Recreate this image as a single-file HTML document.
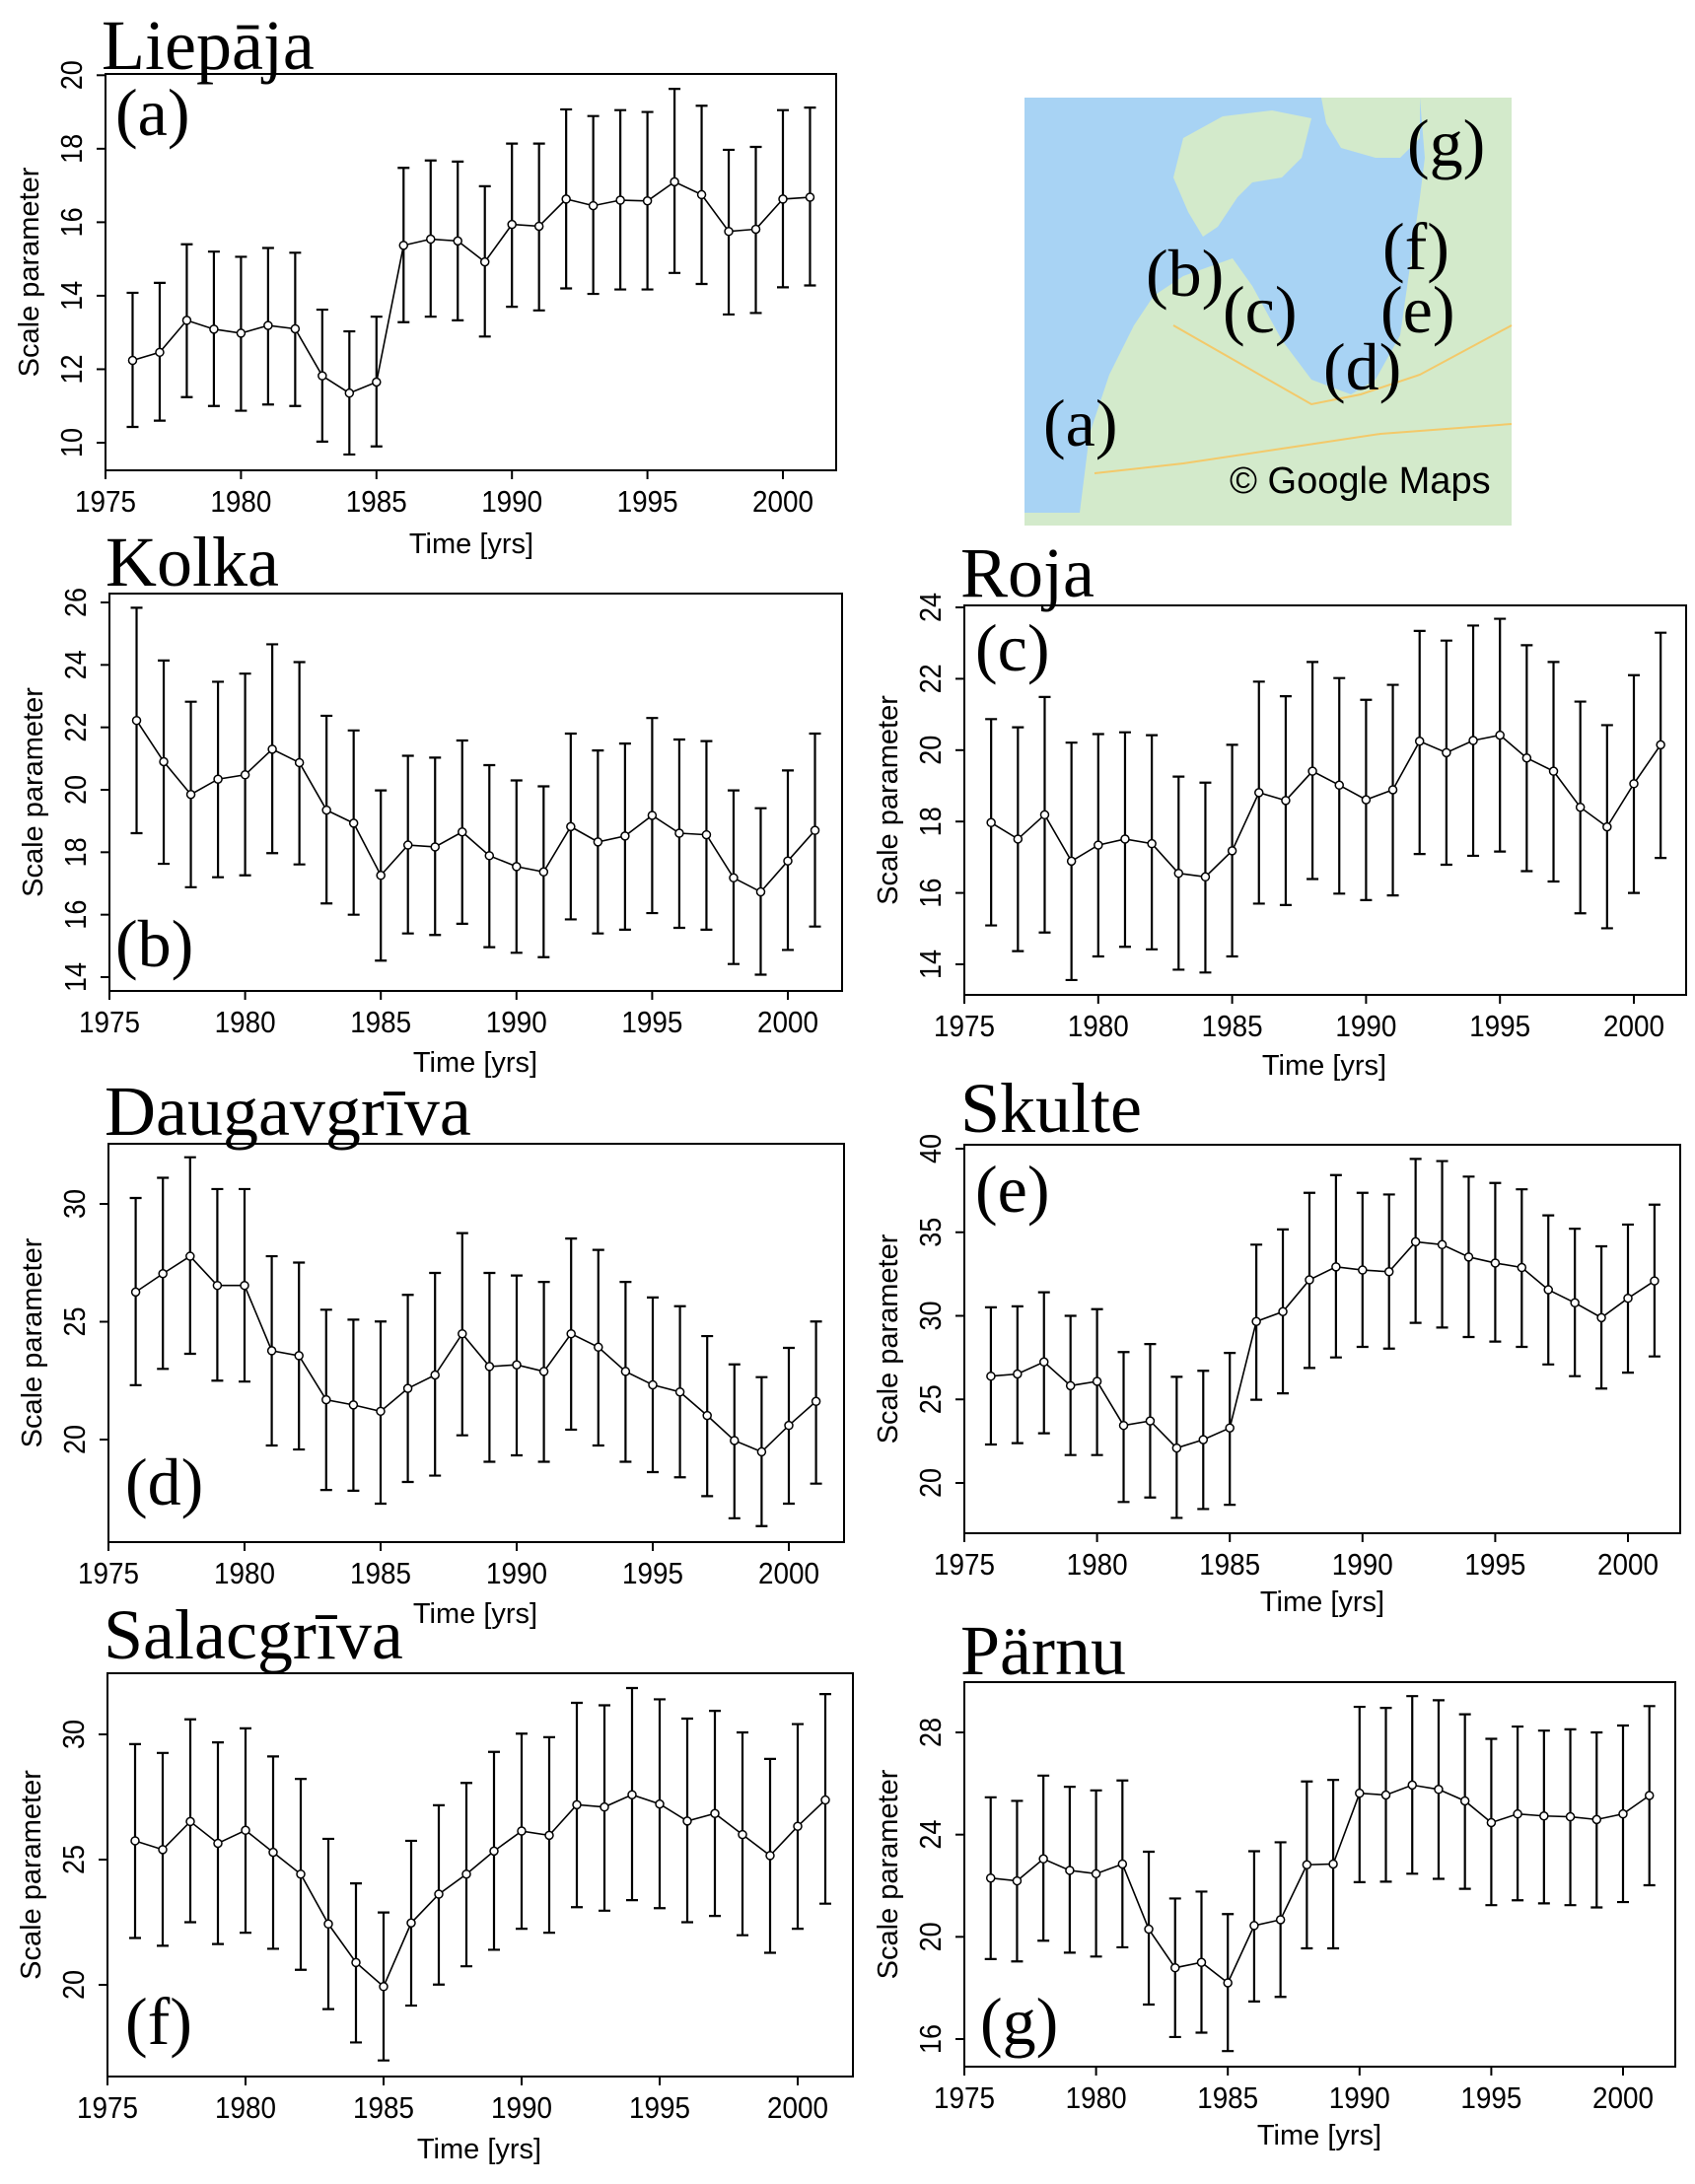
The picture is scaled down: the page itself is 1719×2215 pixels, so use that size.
<!DOCTYPE html>
<html><head><meta charset="utf-8"><style>
body{margin:0;background:#fff}
svg{display:block}
.tk{font-family:"Liberation Sans",sans-serif;font-size:31px;fill:#000}
.ax{font-family:"Liberation Sans",sans-serif;font-size:29px;fill:#000}
.ttl{font-family:"Liberation Serif",serif;font-size:72px;fill:#000}
.lab{font-family:"Liberation Serif",serif;font-size:68px;fill:#000}
</style></head><body>
<svg id="fig" width="1719" height="2215" viewBox="0 0 1719 2215" xmlns="http://www.w3.org/2000/svg">
<g id="map">
<rect x="1039" y="99" width="494" height="434" fill="#a8d3f4"/>
<path d="M1039,533 L1039,520 L1095,520 L1105,440 L1125,380 L1150,330 L1170,300 L1200,280 L1250,262 L1270,290 L1300,345 L1330,385 L1370,400 L1395,385 L1420,340 L1430,270 L1440,200 L1445,160 L1440,99 L1533,99 L1533,533 Z" fill="#d3eacb"/>
<path d="M1200,140 L1240,118 L1290,112 L1330,120 L1320,160 L1300,180 L1270,185 L1255,200 L1235,230 L1220,240 L1205,215 L1190,180 Z" fill="#d3eacb"/>
<path d="M1340,99 L1440,99 L1440,140 L1420,160 L1395,160 L1360,150 L1345,125 Z" fill="#d3eacb"/>
<path d="M1110,480 L1200,470 L1300,455 L1400,440 L1533,430" stroke="#f3c96a" stroke-width="2" fill="none"/>
<path d="M1190,330 L1260,370 L1330,410 L1380,400 L1440,380 L1533,330" stroke="#f3c96a" stroke-width="2" fill="none"/>
<text class="lab" x="1058" y="452">(a)</text>
<text class="lab" x="1162" y="300">(b)</text>
<text class="lab" x="1240" y="337">(c)</text>
<text class="lab" x="1342" y="395">(d)</text>
<text class="lab" x="1400" y="337">(e)</text>
<text class="lab" x="1402" y="273">(f)</text>
<text class="lab" x="1427" y="168">(g)</text>
<text x="1247" y="500" font-family="Liberation Sans,sans-serif" font-size="38">© Google Maps</text>
</g>
</svg>
<script>
const years=[1976,1977,1978,1979,1980,1981,1982,1983,1984,1985,1986,1987,1988,1989,1990,1991,1992,1993,1994,1995,1996,1997,1998,1999,2000,2001];
const xTickLabels=[1975,1980,1985,1990,1995,2000];
const liepajaValues=[12.24,12.46,13.33,13.09,12.98,13.19,13.1,11.82,11.35,11.65,15.37,15.54,15.49,14.92,15.94,15.89,16.63,16.45,16.6,16.58,17.1,16.75,15.75,15.81,16.63,16.68];
const liepajaUpper=[14.08,14.35,15.4,15.2,15.06,15.3,15.17,13.62,13.03,13.43,17.48,17.68,17.65,16.98,18.14,18.14,19.07,18.89,19.05,19.0,19.63,19.17,17.97,18.05,19.05,19.12];
const liepajaLower=[10.43,10.6,11.24,11.0,10.87,11.04,11.0,10.03,9.68,9.9,13.28,13.43,13.33,12.89,13.7,13.6,14.2,14.05,14.17,14.17,14.62,14.32,13.49,13.53,14.23,14.28];
const liepajaYTicks=[10,12,14,16,18,20];
const kolkaValues=[22.22,20.9,19.85,20.34,20.48,21.3,20.87,19.35,18.93,17.26,18.23,18.17,18.65,17.89,17.54,17.37,18.82,18.33,18.52,19.18,18.61,18.56,17.18,16.73,17.72,18.7];
const kolkaUpper=[25.83,24.14,22.82,23.46,23.72,24.66,24.09,22.37,21.9,19.98,21.09,21.03,21.58,20.79,20.3,20.11,21.8,21.26,21.48,22.3,21.61,21.56,19.98,19.41,20.62,21.8];
const kolkaLower=[18.61,17.63,16.88,17.2,17.26,17.97,17.61,16.36,16.0,14.53,15.4,15.35,15.71,14.96,14.78,14.64,15.85,15.4,15.52,16.05,15.58,15.52,14.42,14.08,14.87,15.62];
const kolkaYTicks=[14,16,18,20,22,24,26];
const rojaValues=[17.97,17.51,18.19,16.89,17.34,17.51,17.38,16.55,16.45,17.18,18.81,18.59,19.41,19.02,18.61,18.89,20.25,19.93,20.27,20.42,19.78,19.41,18.4,17.85,19.06,20.15];
const rojaUpper=[20.87,20.64,21.49,20.21,20.45,20.5,20.42,19.26,19.09,20.15,21.92,21.51,22.47,22.02,21.41,21.83,23.34,23.07,23.49,23.68,22.94,22.47,21.36,20.7,22.1,23.29];
const rojaLower=[15.09,14.37,14.89,13.56,14.22,14.49,14.42,13.85,13.77,14.22,15.7,15.66,16.39,15.98,15.8,15.93,17.09,16.79,17.04,17.16,16.61,16.32,15.43,15.01,16.0,16.98];
const rojaYTicks=[14,16,18,20,22,24];
const daugavValues=[26.26,27.04,27.78,26.54,26.54,23.77,23.56,21.69,21.47,21.2,22.17,22.74,24.49,23.1,23.17,22.89,24.49,23.92,22.89,22.32,22.02,21.02,19.96,19.48,20.6,21.62];
const daugavUpper=[30.25,31.11,31.98,30.63,30.63,27.78,27.51,25.51,25.09,25.01,26.14,27.07,28.76,27.07,26.96,26.69,28.53,28.05,26.69,26.03,25.66,24.39,23.19,22.65,23.89,25.01];
const daugavLower=[22.31,23.0,23.64,22.5,22.46,19.75,19.58,17.86,17.83,17.28,18.2,18.47,20.18,19.06,19.33,19.06,20.42,19.75,19.06,18.62,18.4,17.6,16.66,16.33,17.28,18.13];
const daugavYTicks=[20,25,30];
const skulteValues=[26.39,26.52,27.24,25.82,26.08,23.44,23.71,22.09,22.59,23.29,29.66,30.25,32.15,32.93,32.74,32.64,34.43,34.26,33.52,33.16,32.89,31.56,30.78,29.89,31.05,32.09];
const skulteUpper=[30.51,30.57,31.41,30.0,30.4,27.83,28.31,26.35,26.71,27.78,34.26,35.17,37.36,38.42,37.36,37.26,39.39,39.26,38.33,37.95,37.57,36.01,35.21,34.16,35.46,36.65];
const skulteLower=[22.3,22.38,22.97,21.67,21.67,18.86,19.13,17.91,18.44,18.69,24.98,25.36,26.88,27.51,28.14,28.04,29.58,29.3,28.73,28.46,28.14,27.09,26.39,25.65,26.6,27.57];
const skulteYTicks=[20,25,30,35,40];
const salacValues=[25.75,25.4,26.52,25.65,26.17,25.29,24.42,22.43,20.89,19.93,22.47,23.62,24.42,25.34,26.14,25.97,27.19,27.1,27.59,27.22,26.54,26.84,26.0,25.16,26.33,27.38];
const salacUpper=[29.61,29.26,30.6,29.68,30.24,29.12,28.22,25.83,24.05,22.89,25.75,27.17,28.06,29.3,30.03,29.89,31.26,31.16,31.85,31.4,30.63,30.94,30.08,29.02,30.41,31.61];
const salacLower=[21.87,21.56,22.5,21.63,22.08,21.44,20.6,19.03,17.7,16.98,19.17,20.01,20.74,21.4,22.24,22.08,23.1,22.96,23.38,23.06,22.5,22.75,21.98,21.28,22.24,23.24];
const salacYTicks=[20,25,30];
const parnuValues=[22.3,22.19,23.05,22.6,22.47,22.85,20.3,18.79,19.0,18.2,20.44,20.67,22.82,22.85,25.62,25.55,25.94,25.77,25.32,24.47,24.81,24.73,24.7,24.59,24.81,25.53];
const parnuUpper=[25.46,25.32,26.31,25.87,25.73,26.12,23.33,21.5,21.77,20.89,23.35,23.7,26.08,26.14,29.0,28.96,29.42,29.26,28.71,27.75,28.23,28.07,28.12,28.0,28.27,29.03];
const parnuLower=[19.13,19.04,19.85,19.38,19.23,19.59,17.35,16.08,16.25,15.53,17.47,17.65,19.55,19.55,22.14,22.16,22.47,22.27,21.88,21.24,21.43,21.31,21.24,21.15,21.36,22.02];
const parnuYTicks=[16,20,24,28];

const NS='http://www.w3.org/2000/svg';
const svg=document.getElementById('fig');
function mk(tag,attrs,parent){const e=document.createElementNS(NS,tag);for(const k in attrs)e.setAttribute(k,attrs[k]);parent.appendChild(e);return e;}

function panel(cfg){
  const g=mk('g',{},svg);
  
  
  const X=y=>cfg.x0+(y-1975)*(cfg.x25-cfg.x0)/25;
  const Y=v=>cfg.ya+(v-cfg.va)*(cfg.yb-cfg.ya)/(cfg.vb-cfg.va);
  const box=mk('rect',{x:cfg.L,y:cfg.T,width:cfg.R-cfg.L,height:cfg.B-cfg.T,fill:'none',stroke:'#000','stroke-width':2},g);
  
  
  xTickLabels.forEach(t=>{
    const tx=X(t);
    mk('line',{x1:tx,x2:tx,y1:cfg.B,y2:cfg.B+9,stroke:'#000','stroke-width':2},g);
    const lt=mk('text',{x:tx,y:cfg.B+42,'text-anchor':'middle',class:'tk',textLength:62,lengthAdjust:'spacingAndGlyphs'},g);
    lt.textContent=t;
    
    
  });
  cfg.yticks.forEach(t=>{
    const ty=Y(t);
    mk('line',{x1:cfg.L,x2:cfg.L-9,y1:ty,y2:ty,stroke:'#000','stroke-width':2},g);
    const lt=mk('text',{x:cfg.L-24,y:ty,'text-anchor':'middle',class:'tk',textLength:30,lengthAdjust:'spacingAndGlyphs',transform:'rotate(-90 '+(cfg.L-24)+' '+ty+')'},g);
    lt.textContent=t;
    
    
  });
  const yl=mk('text',{x:cfg.L-68,y:(cfg.T+cfg.B)/2,'text-anchor':'middle',class:'ax',transform:'rotate(-90 '+(cfg.L-68)+' '+(cfg.T+cfg.B)/2+')'},g);
  yl.textContent='Scale parameter';
  
  
  const xl=mk('text',{x:cfg.tx,y:cfg.ty,'text-anchor':'middle',class:'ax'},g);
  xl.textContent='Time [yrs]';
  
  
  const tt=mk('text',{x:cfg.L-4,y:cfg.titleY,class:'ttl'},g);
  tt.textContent=cfg.title;
  
  
  const pl=mk('text',{x:cfg.labX,y:cfg.labY,class:'lab'},g);
  pl.textContent=cfg.lab;
  
  
  years.forEach((yr,i)=>{
    const px=X(yr),yu=Y(cfg.up[i]),yd=Y(cfg.lo[i]);
    const eb=mk('path',{d:`M${px},${yu}V${yd}M${px-6},${yu}H${px+6}M${px-6},${yd}H${px+6}`,stroke:'#000','stroke-width':2.2,fill:'none'},g);
    
    
  });
  const line=mk('polyline',{points:years.map((yr,i)=>X(yr)+','+Y(cfg.vals[i])).join(' '),fill:'none',stroke:'#000','stroke-width':1.6},g);
  
  
  years.forEach((yr,i)=>{
    const c=mk('circle',{cx:X(yr),cy:Y(cfg.vals[i]),r:4,fill:'#fff',stroke:'#000','stroke-width':1.5},g);
    
    
  });
}

panel({id:'liepaja',title:'Liepāja',lab:'(a)',L:107,R:848,T:75,B:477,x0:107,x25:794,va:20,ya:76.3,vb:10,yb:449,yticks:liepajaYTicks,vals:liepajaValues,up:liepajaUpper,lo:liepajaLower,tx:478,ty:561,titleY:70,labX:117,labY:137});
panel({id:'kolka',title:'Kolka',lab:'(b)',L:111,R:854,T:602,B:1005,x0:111,x25:799,va:26,ya:611,vb:14,yb:991,yticks:kolkaYTicks,vals:kolkaValues,up:kolkaUpper,lo:kolkaLower,tx:482,ty:1087,titleY:594,labX:117,labY:980});
panel({id:'roja',title:'Roja',lab:'(c)',L:978,R:1710,T:614,B:1009,x0:978,x25:1657,va:24,ya:616,vb:14,yb:978,yticks:rojaYTicks,vals:rojaValues,up:rojaUpper,lo:rojaLower,tx:1343,ty:1090,titleY:605,labX:989,labY:680});
panel({id:'daugavgriva',title:'Daugavgrīva',lab:'(d)',L:110,R:856,T:1160,B:1564,x0:110,x25:800,va:30,ya:1221,vb:20,yb:1460,yticks:daugavYTicks,vals:daugavValues,up:daugavUpper,lo:daugavLower,tx:482,ty:1646,titleY:1151,labX:127,labY:1526});
panel({id:'skulte',title:'Skulte',lab:'(e)',L:978,R:1704,T:1161,B:1555,x0:978,x25:1651,va:40,ya:1165,vb:20,yb:1504,yticks:skulteYTicks,vals:skulteValues,up:skulteUpper,lo:skulteLower,tx:1341,ty:1634,titleY:1148,labX:989,labY:1229});
panel({id:'salacgriva',title:'Salacgrīva',lab:'(f)',L:109,R:865,T:1697,B:2106,x0:109,x25:809,va:30,ya:1759,vb:20,yb:2013,yticks:salacYTicks,vals:salacValues,up:salacUpper,lo:salacLower,tx:486,ty:2189,titleY:1682,labX:127,labY:2073});
panel({id:'parnu',title:'Pärnu',lab:'(g)',L:978,R:1699,T:1706,B:2096,x0:978,x25:1646,va:28,ya:1757,vb:16,yb:2068,yticks:parnuYTicks,vals:parnuValues,up:parnuUpper,lo:parnuLower,tx:1338,ty:2175,titleY:1698,labX:994,labY:2073});
</script>
</body></html>
